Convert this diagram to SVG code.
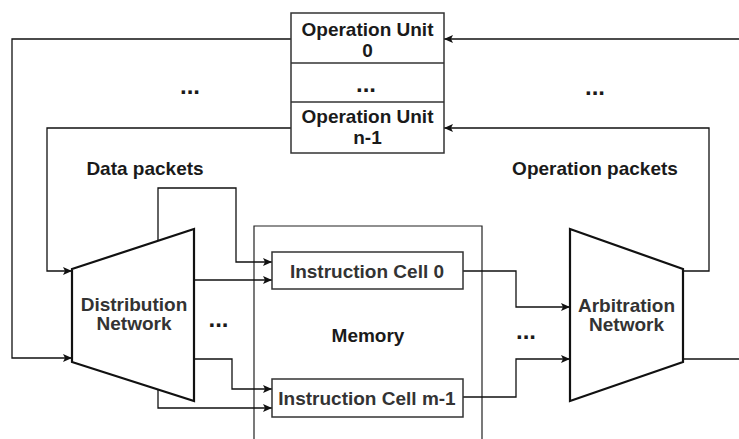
<svg xmlns="http://www.w3.org/2000/svg" width="739" height="439" viewBox="0 0 739 439">
<style>
.b{font-family:"Liberation Sans",Arial,sans-serif;font-size:19px;font-weight:bold;fill:#1a1a1a;text-anchor:middle}
.m{font-family:"Liberation Sans",Arial,sans-serif;font-size:19px;font-weight:bold;fill:#333;text-anchor:middle}
.d{font-family:"Liberation Sans",Arial,sans-serif;font-size:24px;font-weight:bold;fill:#1a1a1a;text-anchor:middle}
.box{fill:#fff;stroke:#333;stroke-width:1.5}
.trap{fill:#fff;stroke:#111;stroke-width:2.2}
.c{fill:none;stroke:#111;stroke-width:1.3}
</style>
<defs>
<marker id="ah" markerUnits="userSpaceOnUse" markerWidth="10" markerHeight="8" refX="9" refY="4" orient="auto">
<path d="M0,0 L9,4 L0,8 L2,4 z" fill="#111"/>
</marker>
</defs>
<g id="memory">
<path d="M254,440 V226 H482 V440" fill="none" stroke="#222" stroke-width="1.2"/>
<text class="b" x="368" y="342">Memory</text>
</g>
<g id="connectors">
<path class="c" d="M291,39 H12 V358 H72" marker-end="url(#ah)"/>
<path class="c" d="M291,128 H47 V271 H72" marker-end="url(#ah)"/>
<path class="c" d="M683,271 H709 V128 H444" marker-end="url(#ah)"/>
<path class="c" d="M739,39 H444" marker-end="url(#ah)"/>
<path class="c" d="M683,359 H739"/>
<path class="c" d="M158,241 V188 H236 V262 H272" marker-end="url(#ah)"/>
<path class="c" d="M194,280 H272" marker-end="url(#ah)"/>
<path class="c" d="M194,359 H232 V389 H272" marker-end="url(#ah)"/>
<path class="c" d="M158,390 V408 H272" marker-end="url(#ah)"/>
<path class="c" d="M463,271 H516 V307 H570" marker-end="url(#ah)"/>
<path class="c" d="M463,397 H516 V359 H570" marker-end="url(#ah)"/>
</g>
<g id="operation-units">
<rect class="box" x="291" y="13" width="153" height="140"/>
<line x1="291" y1="63" x2="444" y2="63" stroke="#333" stroke-width="1.5"/>
<line x1="291" y1="102" x2="444" y2="102" stroke="#333" stroke-width="1.5"/>
<text class="b" x="367.5" y="35.5">Operation Unit</text>
<text class="b" x="367.5" y="56.5">0</text>
<text class="d" x="366" y="92">...</text>
<text class="b" x="367.5" y="123">Operation Unit</text>
<text class="b" x="367.5" y="144">n-1</text>
</g>
<g id="distribution-network">
<path class="trap" d="M72,269 L194,229 L194,401 L72,362 Z"/>
<text class="m" x="134" y="311">Distribution</text>
<text class="m" x="134" y="330">Network</text>
</g>
<g id="arbitration-network">
<path class="trap" d="M570,229 L683,269 L683,362 L570,401 Z"/>
<text class="m" x="626.5" y="312">Arbitration</text>
<text class="m" x="626.5" y="331">Network</text>
</g>
<g id="instruction-cell-0">
<rect class="box" x="272" y="252" width="191" height="37"/>
<text class="m" x="367" y="278">Instruction Cell 0</text>
</g>
<g id="instruction-cell-m-1">
<rect class="box" x="272" y="379" width="191" height="38"/>
<text class="m" x="367" y="405">Instruction Cell m-1</text>
</g>
<g id="labels">
<text class="b" x="145" y="175">Data packets</text>
<text class="b" x="595" y="175">Operation packets</text>
<text class="d" x="190" y="94">...</text>
<text class="d" x="595" y="95">...</text>
<text class="d" x="218.5" y="327">...</text>
<text class="d" x="526" y="339">...</text>
</g>
</svg>
